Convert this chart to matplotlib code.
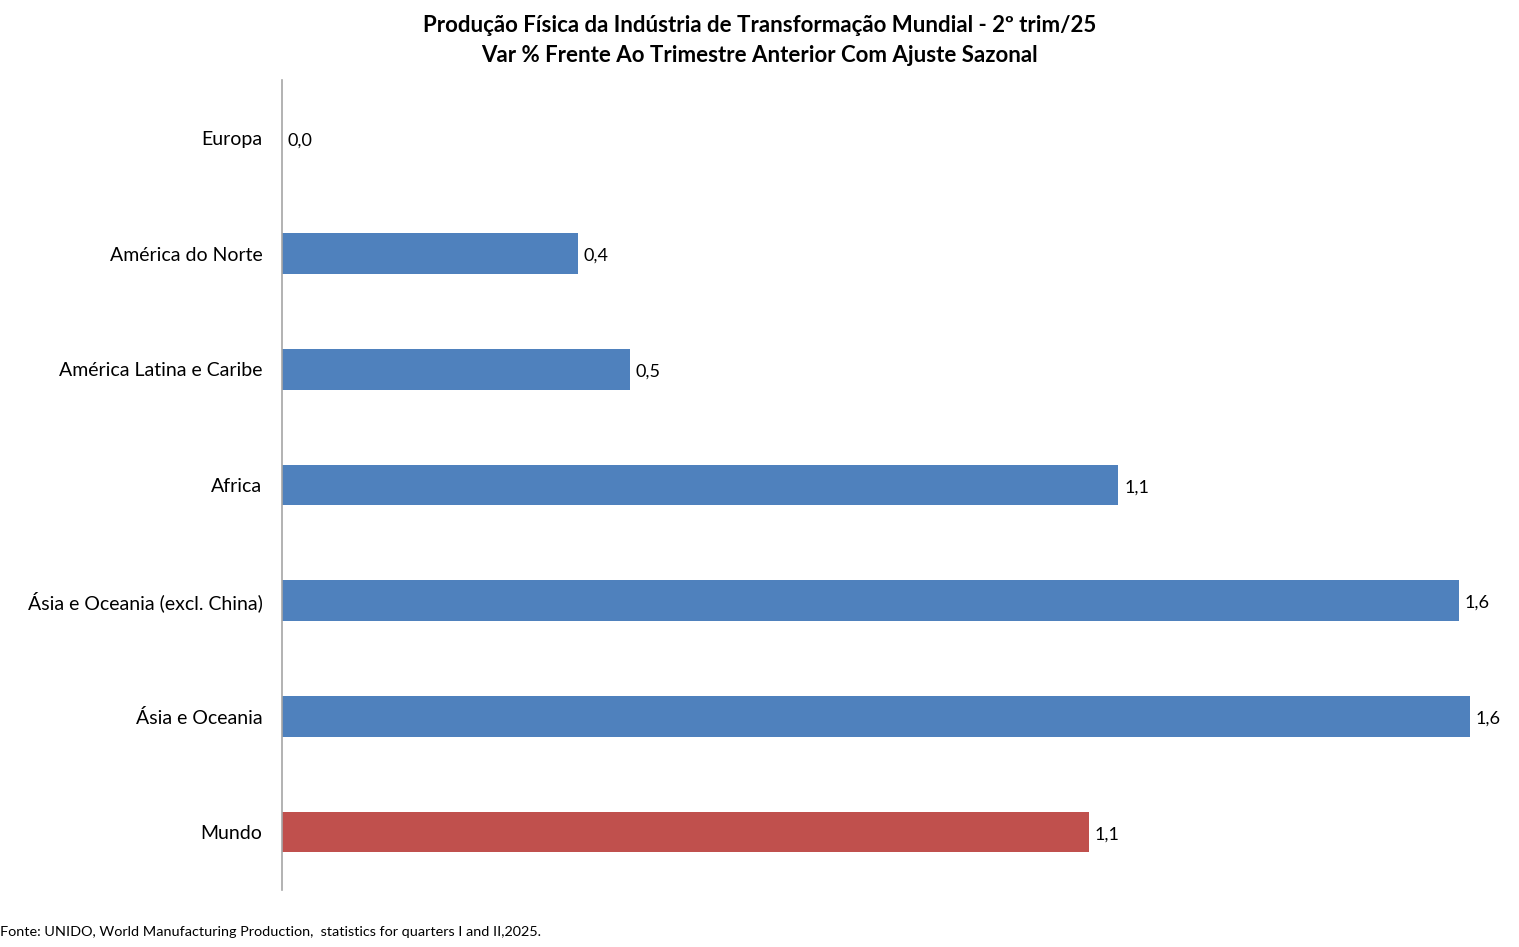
import matplotlib.pyplot as plt

plt.rcParams['font.family'] = ['Lato', 'DejaVu Sans']

regioes = ['Europa', 'América do Norte', 'América Latina e Caribe', 'Africa',
           'Ásia e Oceania (excl. China)', 'Ásia e Oceania', 'Mundo']
variacao = [0.0, 0.40, 0.47, 1.13, 1.59, 1.605, 1.09]
cores = ['#4F81BD'] * 6 + ['#C0504D']

fig = plt.figure(figsize=(15.19, 9.47), dpi=100)
ax = fig.add_axes([282 / 1519, 1 - 890 / 947, (1512 - 282) / 1519, 810 / 947])

pos = list(range(len(regioes)))
ax.barh(pos, variacao, height=0.35, color=cores)
ax.set_ylim(len(regioes) - 0.5, -0.5)
ax.set_xlim(0, 1.662)

for p, v in zip(pos, variacao):
    ax.text(v + 0.008, p + 0.02, f'{v:.1f}'.replace('.', ','), va='center', ha='left',
            fontsize=13)

ax.set_yticks(pos)
ax.set_yticklabels(regioes, fontsize=14)
ax.tick_params(axis='y', length=0, pad=14)
ax.set_xticks([])
for s in ['top', 'right', 'bottom']:
    ax.spines[s].set_visible(False)
ax.spines['left'].set_color('#A6A6A6')
ax.spines['left'].set_linewidth(1.2)

fig.text(0.5, 1 - 26 / 947, 'Produção Física da Indústria de Transformação Mundial - 2º trim/25',
         ha='center', va='center', fontsize=16, fontweight='bold')
fig.text(0.5, 1 - 55 / 947, 'Var % Frente Ao Trimestre Anterior Com Ajuste Sazonal',
         ha='center', va='center', fontsize=16, fontweight='bold')
fig.text(0.0, 1 - 932 / 947, 'Fonte: UNIDO, World Manufacturing Production,  statistics for quarters I and II,2025.',
         ha='left', va='center', fontsize=10.4)

fig.savefig('out.png', dpi=100)
